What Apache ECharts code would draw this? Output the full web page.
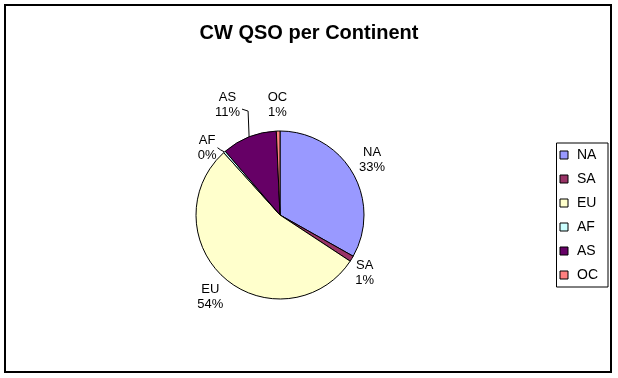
<!DOCTYPE html>
<html>
<head>
<meta charset="utf-8">
<script src="https://cdn.jsdelivr.net/npm/echarts@6/dist/echarts.min.js"></script>
<style>
html,body{margin:0;padding:0;background:#fff;}
#chart{width:618px;height:378px;}
</style>
</head>
<body>
<div id="chart"></div>
<script>
const titleText = 'CW QSO per Continent';
const continents = ['NA', 'SA', 'EU', 'AF', 'AS', 'OC'];
const qsoCounts = [332, 11, 541, 4, 106, 7];
const sliceColors = ['#9999FF', '#993366', '#FFFFCC', '#CCFFFF', '#660066', '#FF8080'];
const leaderLineShown = [false, false, false, true, true, false];
// manual label nudges (Excel-dragged labels), pixels
const labelNudge = [[4, 4], [1, -2], [0, 1], [-6, 13], [-8, -14], [0, -8]];

const FONT = '"Liberation Sans", Arial, sans-serif';
const CX = 280, CY = 215, R = 84, GAP = 3;

const total = qsoCounts.reduce((a, b) => a + b, 0);
let cum = 0;
const midAngles = qsoCounts.map(v => { const m = (cum + v / 2) / total * 2 * Math.PI; cum += v; return m; });

const chart = echarts.init(document.getElementById('chart'), null, {renderer: 'canvas'});

const data = continents.map((name, i) => ({
  name: name,
  value: qsoCounts[i],
  itemStyle: {color: sliceColors[i]},
  labelLine: {show: leaderLineShown[i]}
}));

function clamp(v) { return Math.max(-1, Math.min(1, v)); }

chart.setOption({
  backgroundColor: '#ffffff',
  animation: false,
  graphic: [{
    type: 'rect',
    shape: {x: 5, y: 5, width: 606, height: 367},
    style: {fill: 'none', stroke: '#000', lineWidth: 2},
    silent: true
  }],
  title: {
    text: titleText,
    left: 'center',
    top: 18,
    textStyle: {fontFamily: FONT, fontSize: 20, fontWeight: 'bold', color: '#000'}
  },
  legend: {
    orient: 'vertical',
    right: 10,
    top: 143,
    padding: [5, 10, 5, 3],
    borderColor: '#000',
    borderWidth: 1,
    itemWidth: 8,
    itemHeight: 8,
    itemGap: 10,
    icon: 'rect',
    itemStyle: {borderColor: '#000', borderWidth: 1},
    textStyle: {fontFamily: FONT, fontSize: 14, color: '#000', padding: [0, 0, 0, 4]},
    data: continents
  },
  series: [{
    type: 'pie',
    center: [CX, CY],
    radius: R,
    startAngle: 90,
    clockwise: true,
    avoidLabelOverlap: false,
    percentPrecision: 0,
    itemStyle: {borderColor: '#000', borderWidth: 1},
    label: {
      show: true,
      position: 'outside',
      formatter: '{b}\n{d}%',
      fontFamily: FONT,
      fontSize: 13,
      lineHeight: 15,
      color: '#000'
    },
    labelLine: {length: 10, length2: 0, lineStyle: {color: '#000', width: 1}},
    labelLayout: function (params) {
      const i = params.dataIndex;
      const a = midAngles[i];
      const dx = Math.sin(a), dy = -Math.cos(a);
      const w = params.labelRect.width, h = params.labelRect.height;
      const ax = CX + (R + GAP) * dx, ay = CY + (R + GAP) * dy;
      const cx = ax + clamp(dx * 3) * w / 2 + labelNudge[i][0];
      const cy = ay + clamp(dy * 3) * h / 2 + labelNudge[i][1];
      const ex = CX + R * dx, ey = CY + R * dy;
      let pts;
      if (i === 4) {
        pts = [[ex, ey], [ex - 1, cy + 6], [cx + w / 2 + 2, cy + 4]];
      } else {
        pts = [[ex, ey], [(ex + cx + w / 2) / 2, (ey + cy) / 2], [cx + w / 2 + 1, cy]];
      }
      return {x: cx, y: cy, align: 'center', verticalAlign: 'middle', labelLinePoints: pts};
    },
    data: data
  }]
});
</script>
</body>
</html>
